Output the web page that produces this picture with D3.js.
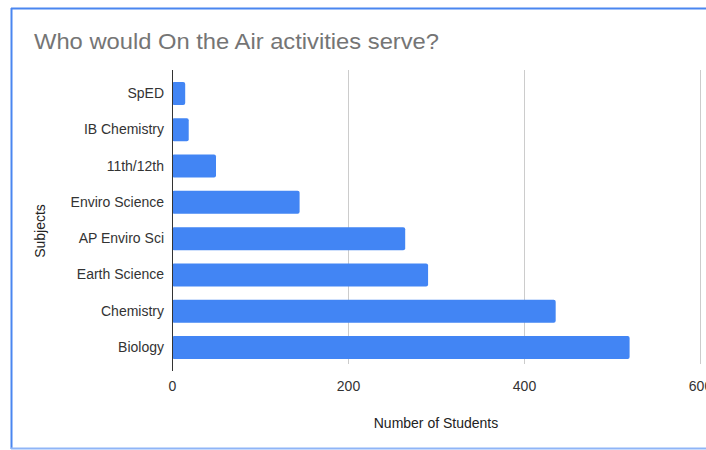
<!DOCTYPE html>
<html>
<head>
<meta charset="utf-8">
<script src="https://cdn.jsdelivr.net/npm/d3@7"></script>
<style>
  html, body { margin: 0; padding: 0; background: #fff; }
  svg { display: block; }
  text { font-family: "Liberation Sans", Arial, sans-serif; }
</style>
</head>
<body>
<svg id="chart" width="706" height="450"></svg>
<script>
const categories = ["SpED", "IB Chemistry", "11th/12th", "Enviro Science", "AP Enviro Sci", "Earth Science", "Chemistry", "Biology"];
const students = [15, 19, 50, 145, 265, 291, 436, 520];
const xTicks = [0, 200, 400, 600];
const title = "Who would On the Air activities serve?";
const xTitle = "Number of Students";
const yTitle = "Subjects";

const data = categories.map((c, i) => ({ cat: c, val: students[i] }));

const svg = d3.select("#chart");

// card border
svg.append("rect").attr("x", 0).attr("y", 0).attr("width", 706).attr("height", 450).attr("fill", "#fff");
svg.append("line").attr("x1", 11.5).attr("x2", 11.5).attr("y1", 8).attr("y2", 449)
  .attr("stroke", "#4a86f0").attr("stroke-width", 2);
svg.append("line").attr("x1", 11).attr("x2", 706).attr("y1", 8.5).attr("y2", 8.5)
  .attr("stroke", "#4a86f0").attr("stroke-width", 2);
svg.append("line").attr("x1", 11).attr("x2", 706).attr("y1", 448.5).attr("y2", 448.5)
  .attr("stroke", "#8fb5f7").attr("stroke-width", 2);

const x = d3.scaleLinear().domain([0, 600]).range([172, 700]);
const y = d3.scaleBand().domain(categories).range([75.4, 365.6]).paddingInner(0.366).paddingOuter(0.183);

// gridlines
svg.append("g").selectAll("line").data(xTicks.filter(t => t !== 0)).join("line")
  .attr("x1", d => x(d) + 0.5).attr("x2", d => x(d) + 0.5)
  .attr("y1", 70).attr("y2", 364)
  .attr("stroke", "#cccccc").attr("stroke-width", 1);

// bars
svg.append("g").selectAll("rect").data(data).join("rect")
  .attr("x", x(0))
  .attr("y", d => y(d.cat))
  .attr("width", d => x(d.val) - x(0))
  .attr("height", y.bandwidth())
  .attr("rx", 2).attr("ry", 2)
  .attr("fill", "#4285f4");

// baseline axis
svg.append("line").attr("x1", x(0) + 0.5).attr("x2", x(0) + 0.5).attr("y1", 70).attr("y2", 371)
  .attr("stroke", "#333").attr("stroke-width", 1);

// x axis labels
const xAxis = d3.axisBottom(x).tickValues(xTicks).tickSize(0).tickPadding(0).tickFormat(d3.format("d"));
const gx = svg.append("g").attr("transform", "translate(0,381)").call(xAxis);
gx.select(".domain").remove();
gx.selectAll("text").attr("font-size", 14).attr("fill", "#333").attr("dy", "0.71em")
  .attr("font-family", "Liberation Sans, Arial, sans-serif");

// y axis labels
const yAxis = d3.axisLeft(y).tickSize(0).tickPadding(8);
const gy = svg.append("g").attr("transform", `translate(${x(0)},0)`).call(yAxis);
gy.select(".domain").remove();
gy.selectAll("text").attr("font-size", 14).attr("fill", "#333")
  .attr("font-family", "Liberation Sans, Arial, sans-serif");

// titles
svg.append("text").attr("transform", "translate(34,49) scale(1.08,1)").text(title)
  .attr("font-size", 22).attr("fill", "#757575");
svg.append("text").attr("x", 436).attr("y", 428).attr("text-anchor", "middle").text(xTitle)
  .attr("font-size", 14).attr("fill", "#222");
svg.append("text").attr("transform", "translate(45,231) rotate(-90)").attr("text-anchor", "middle").text(yTitle)
  .attr("font-size", 14).attr("fill", "#222");
</script>
</body>
</html>
